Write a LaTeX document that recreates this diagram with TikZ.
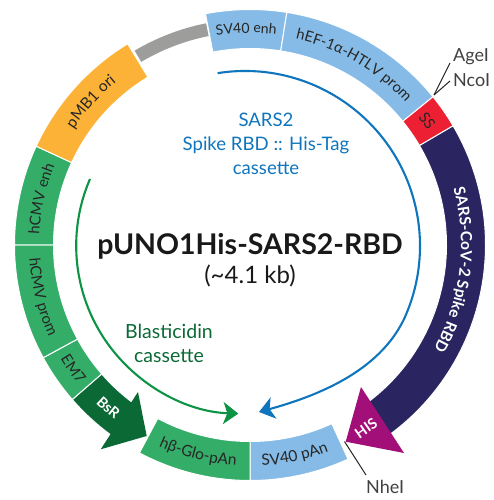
\documentclass[tikz,border=0pt]{standalone}
\usepackage{fontspec}
\setmainfont{Lato}
\usetikzlibrary{positioning, arrows.meta, decorations.text}

\definecolor{segblue}{HTML}{85BBE6}
\definecolor{segred}{HTML}{EC2032}
\definecolor{segnavy}{HTML}{2A2460}
\definecolor{segpurple}{HTML}{A30F78}
\definecolor{seggreen}{HTML}{33AD68}
\definecolor{segdark}{HTML}{0B6936}
\definecolor{segorange}{HTML}{FBB236}
\definecolor{seggray}{HTML}{9D9D9C}
\definecolor{cassblue}{HTML}{0F75BC}
\definecolor{cassgreen}{HTML}{0C9444}

% ring segment: colour, start angle, end angle
\newcommand{\ringseg}[3]{\fill[#1, draw=white, line width=1pt] (#2:235.5) arc[start angle=#2, end angle=#3, radius=235.5] -- (#3:196.5) arc[start angle=#3, end angle=#2, radius=196.5] -- cycle;}
% label along the ring: format, centre angle, text, radius, delta
\newcommand{\ringtext}[5]{\pgfmathsetmacro{\startang}{#2-#5/2}
    \path[decorate, decoration={text along path, text align=center, text={|#1|#3}}] (\startang:#4) arc[start angle=\startang, delta angle=#5, radius=#4];}
\newcommand{\darktext}[1]{\fontsize{#1}{18}\selectfont\color{black!85}}
\newcommand{\lighttext}[1]{\fontsize{#1}{18}\selectfont\bfseries\color{white}}

\begin{document}
\begin{tikzpicture}[
                x=1pt, y=1pt,
                cassette/.style={line width=2.1pt, -{Stealth[length=15pt, width=22pt, inset=4pt]}},
                cutline/.style={draw=black!85, line width=1pt},
                sitelabel/.style={font=\fontsize{18}{20}\selectfont, text=black!75, inner sep=0pt},
                casslabel/.style={font=\fontsize{18.6}{24}\selectfont, align=center, inner sep=0pt}
            ]
            \useasboundingbox (-250,-255) rectangle (244,245);

            % Ring
            \ringseg{segblue}{100.9}{81}
            \ringseg{segblue}{81}{39}
            \ringseg{segred}{39}{30.4}
            \ringseg{segnavy}{30.4}{-55}
            \ringseg{segblue}{-65.4}{-90}
            \ringseg{seggreen}{-90}{-118}
            \ringseg{segdark}{-139}{-125}
            \ringseg{seggreen}{-139}{-151.4}
            \ringseg{seggreen}{-151.4}{-180}
            \ringseg{seggreen}{180}{155.2}
            \ringseg{segorange}{155.2}{121.3}
            \fill[seggray] (120.7:226) arc[start angle=120.7, end angle=101.2, radius=226] -- (101.2:213) arc[start angle=101.2, end angle=120.7, radius=213] -- cycle;

            % Arrow heads
            \fill[segpurple] (111,-142) -- (154,-208) -- (95.7,-196.7) -- cycle;
            \fill[segdark] (-112,-147) -- (-103.3,-191) -- (-149.3,-204.3) -- cycle;

            % Ring labels
            \ringtext{\darktext{14}}{91}{SV40 enh}{212}{-40}
            \ringtext{\darktext{14.8}}{60}{hEF-1α-HTLV prom}{211}{-70}
            \ringtext{\darktext{15}}{35}{SS}{211}{-30}
            \ringtext{\lighttext{15.5}}{-7}{SARS-CoV-2 Spike RBD}{211}{-90}
            \ringtext{\darktext{15.5}}{138}{pMB1 ori}{211}{-50}
            \ringtext{\darktext{15}}{167.5}{hCMV enh}{211}{-40}
            \ringtext{\darktext{15}}{194}{hCMV prom}{221}{40}
            \ringtext{\darktext{15}}{215}{EM7}{221}{30}
            \ringtext{\lighttext{14.5}}{229}{BsR}{221}{30}
            \ringtext{\darktext{15.5}}{256}{hβ-Glo-pAn}{221}{40}
            \ringtext{\darktext{15.5}}{282}{SV40 pAn}{221}{40}
            \node[rotate=35, text=white, font=\fontsize{14.5}{16}\selectfont\bfseries] (his) at (116,-183) {HIS};

            % Cassettes
            \coordinate (bluestart) at (99:175);
            \coordinate (blueend) at (9,-167);
            \draw[cassette, cassblue] ([shift={(-5,-1)}]bluestart) arc[start angle=99, end angle=-25, radius=175] .. controls (128,-127) and (67,-151) .. (blueend);
            \coordinate (greenstart) at (-160,66);
            \draw[cassette, cassgreen] (greenstart) arc[start angle=156.6, end angle=268, radius=168];

            % Texts
            \node[font=\fontsize{28.5}{30}\selectfont\bfseries, text=black!90, inner sep=0pt] (title) at (0,-1) {pUNO1His-SARS2-RBD};
            \node[font=\fontsize{24}{28}\selectfont, text=black!90, inner sep=0pt, below=6pt of title] (size) {(\textasciitilde 4.1 kb)};
            \node[casslabel, text=cassblue] (bluelabel) at (16,101) {SARS2\\Spike RBD :: His-Tag\\cassette};
            \node[casslabel, font=\fontsize{19.5}{24}\selectfont, text=segdark] (greenlabel) at (-81,-98) {Blasticidin\\cassette};
            \node[sitelabel, anchor=west] (agei) at (203,188) {AgeI};
            \node[sitelabel, anchor=west] (ncoi) at (203,165) {NcoI};
            \node[sitelabel, anchor=west] (nhei) at (116,-242) {NheI};

            % Site lines
            \coordinate (sitetop) at (184,150);
            \coordinate (sitebottom) at (94.5,-196.5);
            \draw[cutline] (sitetop) -- ([xshift=-3pt, yshift=-6pt]agei.west);
            \draw[cutline] (sitetop) -- ([xshift=-3pt, yshift=-1pt]ncoi.west);
            \draw[cutline] (sitebottom) -- ([yshift=12pt]nhei.west);
        \end{tikzpicture}
\end{document}
